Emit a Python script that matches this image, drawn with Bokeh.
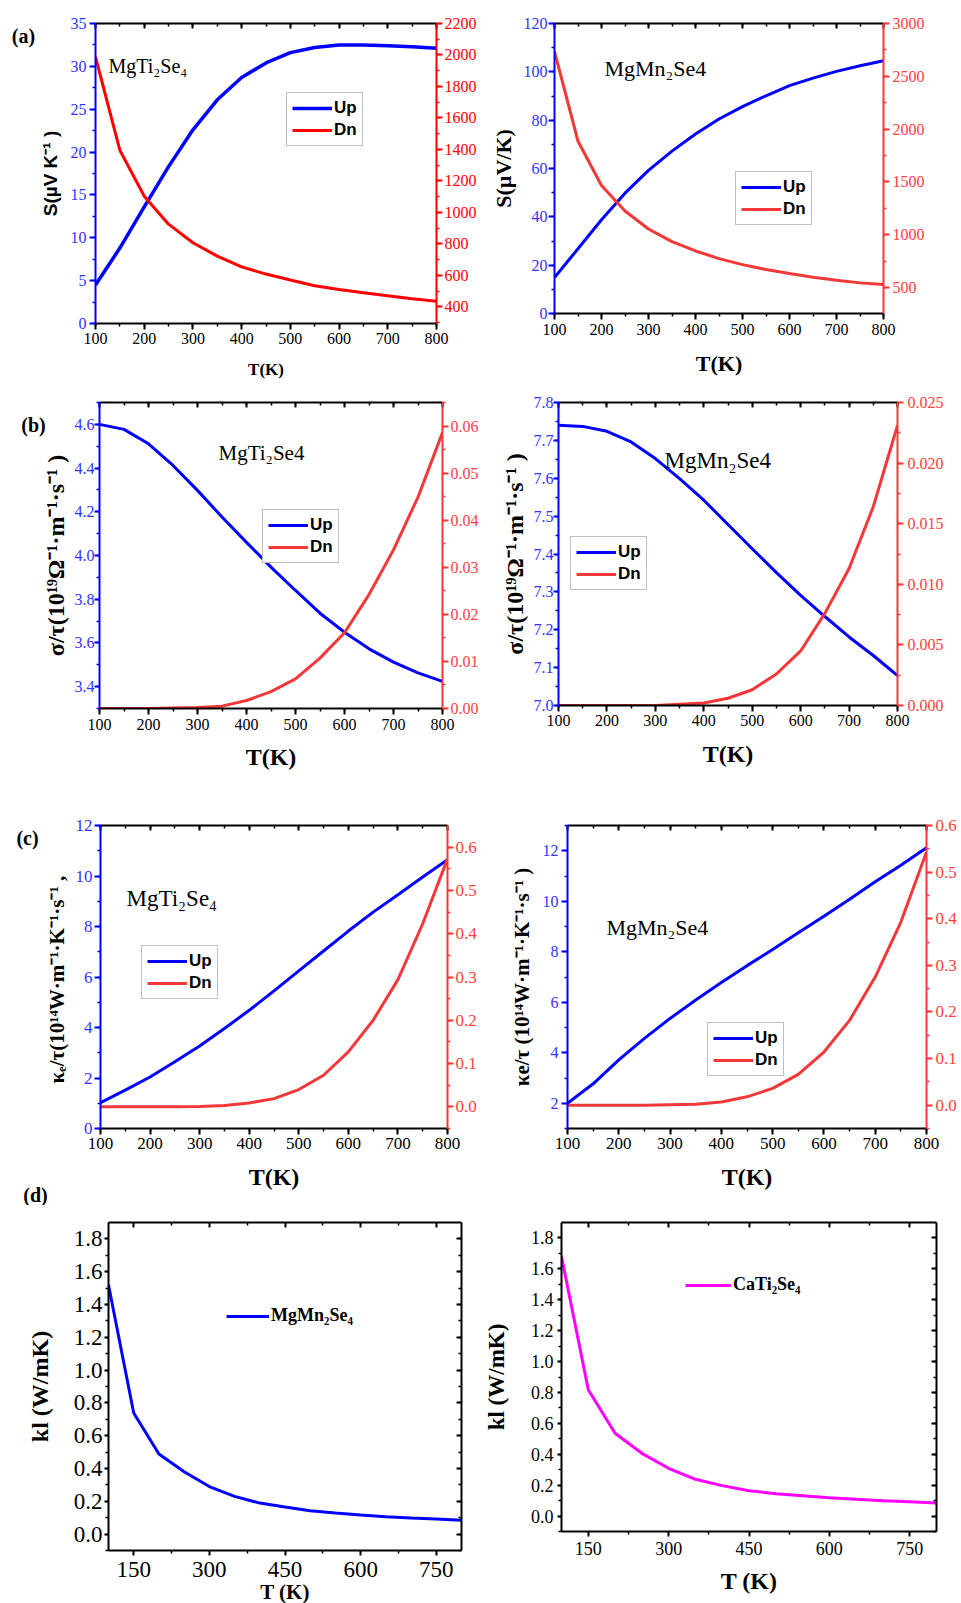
from bokeh.plotting import figure
from bokeh.models import (LinearAxis, Range1d, SingleIntervalTicker, FixedTicker, Grid,
                          Legend, LegendItem, Label, NumeralTickFormatter, CustomJSTickFormatter)
from bokeh.layouts import column, row
from bokeh.embed import file_html
from bokeh.resources import INLINE

# ---------------- data ----------------
temperature = [100, 150, 200, 250, 300, 350, 400, 450, 500, 550, 600, 650, 700, 750, 800]

seebeck_mgti_up = [4.5, 8.8, 13.6, 18.3, 22.6, 26.1, 28.7, 30.4, 31.6, 32.2, 32.5, 32.5, 32.4, 32.3, 32.1]
seebeck_mgti_dn = [1988, 1395, 1103, 925, 807, 722, 654, 608, 570, 534, 510, 489, 470, 451, 436]

seebeck_mgmn_up = [14.9, 26.8, 38.8, 49.8, 59.2, 67.2, 74.3, 80.5, 85.6, 90.1, 94.3, 97.4, 100.2, 102.5, 104.6]
seebeck_mgmn_dn = [2735, 1885, 1466, 1224, 1054, 934, 846, 774, 717, 670, 632, 597, 569, 544, 529]

sigma_mgti_up = [4.600, 4.577, 4.511, 4.412, 4.298, 4.176, 4.060, 3.947, 3.840, 3.736, 3.649, 3.573, 3.512, 3.463, 3.424]
sigma_mgti_dn = [0.0, 0.0, 0.0, 0.0001, 0.0002, 0.0005, 0.0017, 0.0036, 0.0063, 0.0107, 0.0161, 0.0242, 0.0337, 0.0449, 0.0586]

sigma_mgmn_up = [7.740, 7.737, 7.724, 7.696, 7.652, 7.599, 7.542, 7.478, 7.414, 7.351, 7.291, 7.235, 7.181, 7.132, 7.079]
sigma_mgmn_dn = [0.0, 0.0, 0.0, 0.0, 0.0, 0.0001, 0.0002, 0.0006, 0.0013, 0.0026, 0.0045, 0.0076, 0.0113, 0.0164, 0.0231]

kappa_mgti_up = [1.02, 1.52, 2.04, 2.64, 3.27, 3.96, 4.68, 5.45, 6.24, 7.03, 7.82, 8.57, 9.26, 9.96, 10.64]
kappa_mgti_dn = [0.0, 0.0, 0.0, 0.0, 0.001, 0.003, 0.009, 0.019, 0.040, 0.073, 0.127, 0.200, 0.294, 0.423, 0.573]

kappa_mgmn_up = [2.0, 2.77, 3.72, 4.57, 5.36, 6.09, 6.78, 7.45, 8.09, 8.75, 9.41, 10.08, 10.77, 11.43, 12.12]
kappa_mgmn_dn = [0.0, 0.0, 0.0, 0.0, 0.001, 0.002, 0.007, 0.018, 0.036, 0.066, 0.114, 0.182, 0.275, 0.393, 0.543]

kl_mgmn = [1.519, 0.738, 0.488, 0.380, 0.290, 0.230, 0.189, 0.165, 0.142, 0.128, 0.116, 0.106, 0.098, 0.092, 0.085]
kl_cati = [1.680, 0.817, 0.536, 0.406, 0.309, 0.238, 0.197, 0.164, 0.145, 0.132, 0.119, 0.108, 0.099, 0.093, 0.084]

series_labels = ["Up", "Dn"]
kl_ticks = [150, 300, 450, 600, 750]
kl_minor = [225, 375, 525, 675]

SERIF = "Liberation Serif"
SANS = "Liberation Sans"
BLUE = "#0000FF"
BLUE_LAB = "#3333FF"
RED = "#FF0000"
RED2 = "#F23838"
RED_LAB = "#FF4040"
MAGENTA = "#FF00FF"


def base_fig(bl, fw, br, bt, fh, bb, y_range, x_range=(100, 800)):
    p = figure(frame_width=fw, frame_height=fh, min_border_left=bl, min_border_right=br,
               min_border_top=bt, min_border_bottom=bb,
               x_range=Range1d(*x_range), y_range=Range1d(*y_range),
               x_axis_location=None, y_axis_location=None,
               output_backend="svg", toolbar_location=None)
    p.outline_line_color = None
    p.background_fill_color = "white"
    p.border_fill_color = "white"
    return p


def axis(p, side, ticker, color="black", lab_color=None, size=16, standoff=3,
         tick_out=6, tick_in=0, minor_out=3, minor_in=0, fmt=None, blank=False,
         title=None, title_font=SERIF, title_size=22, title_standoff=5, y_range_name=None):
    kw = {}
    if y_range_name:
        kw["y_range_name"] = y_range_name
    ax = LinearAxis(ticker=ticker, **kw)
    if fmt is not None:
        ax.formatter = NumeralTickFormatter(format=fmt)
    ax.axis_line_color = color
    ax.axis_line_width = 2
    ax.major_tick_line_color = color
    ax.major_tick_line_width = 2
    ax.minor_tick_line_color = color
    ax.minor_tick_line_width = 1.5
    ax.major_tick_out = tick_out
    ax.major_tick_in = tick_in
    ax.minor_tick_out = minor_out
    ax.minor_tick_in = minor_in
    if blank:
        ax.formatter = CustomJSTickFormatter(code="return ''")
        ax.major_label_text_font_size = "1px"
        ax.major_label_standoff = 0
    else:
        ax.major_label_text_color = lab_color or color
        ax.major_label_text_font = SERIF
        ax.major_label_text_font_size = f"{size}px"
        ax.major_label_standoff = standoff
    if title:
        ax.axis_label = title
        ax.axis_label_text_font = title_font
        ax.axis_label_text_font_style = "bold"
        ax.axis_label_text_font_size = f"{title_size}px"
        ax.axis_label_text_color = "black"
        ax.axis_label_standoff = title_standoff
    p.add_layout(ax, side)
    return ax


def add_legend(p, items, loc, boxed=True, font=SANS, size=17, glyph_w=40):
    leg = Legend(items=[LegendItem(label=t, renderers=[r]) for t, r in items], location=loc)
    leg.margin = 0
    leg.padding = 5
    leg.spacing = 2
    leg.glyph_width = glyph_w
    leg.glyph_height = 20
    leg.label_height = 20
    leg.label_standoff = 2
    leg.label_text_font = font
    leg.label_text_font_style = "bold"
    leg.label_text_font_size = f"{size}px"
    leg.label_text_color = "black"
    if boxed:
        leg.border_line_color = "#7f7f7f"
        leg.border_line_width = 1.5
        leg.background_fill_color = "white"
        leg.background_fill_alpha = 1
    else:
        leg.border_line_color = None
        leg.background_fill_alpha = 0
    p.add_layout(leg)


def add_text(p, x, y, text, size, bold=False, align="left", font=SERIF):
    p.add_layout(Label(x=x, y=y, x_units="screen", y_units="screen", text=text,
                       text_font=font, text_font_size=f"{size}px",
                       text_font_style="bold" if bold else "normal",
                       text_align=align, text_baseline="middle", text_color="black"))


def add_tag(p, x, y, text, side="left"):
    # panel tag placed in a side panel (data units) so that it is not clipped to the frame
    p.add_layout(Label(x=x, y=y, x_units="data", y_units="data", text=text,
                       text_font=SERIF, text_font_size="20px", text_font_style="bold",
                       text_align="center", text_baseline="middle", text_color="black"), side)


def no_grid(p):
    for g in p.select(type=Grid):
        g.visible = False


def xt():
    return SingleIntervalTicker(interval=100, num_minor_ticks=2)


def dual_axes(p, *, xs, xst, xtitle_size, xtitle_st, lint, lfmt, ls, lst, ltick_out, ytitle,
              ytitle_font, ytitle_size, ytitle_st, rint, rfmt, rs, rst, lcol=BLUE, rcol=RED, rlab=RED_LAB):
    axis(p, "below", xt(), size=xs, standoff=xst, title="T(K)", title_size=xtitle_size,
         title_standoff=xtitle_st)
    axis(p, "above", xt(), blank=True, tick_out=0, tick_in=5, minor_out=0, minor_in=3)
    axis(p, "left", SingleIntervalTicker(interval=lint, num_minor_ticks=2), color=lcol,
         lab_color=BLUE_LAB, size=ls, standoff=lst, tick_out=ltick_out, fmt=lfmt,
         title=ytitle, title_font=ytitle_font, title_size=ytitle_size, title_standoff=ytitle_st)
    axis(p, "right", SingleIntervalTicker(interval=rint, num_minor_ticks=2), color=rcol,
         lab_color=rlab, size=rs, standoff=rst, fmt=rfmt, y_range_name="r")


# ---------------- (a) left ----------------
a1 = base_fig(95, 341, 44, 20, 300, 60, (0, 35))
a1.extra_y_ranges = {"r": Range1d(294, 2200)}
r_up = a1.line(temperature, seebeck_mgti_up, line_color=BLUE, line_width=3.5)
r_dn = a1.line(temperature, seebeck_mgti_dn, line_color=RED, line_width=3, y_range_name="r")
dual_axes(a1, xs=16, xst=3, xtitle_size=17, xtitle_st=13, lint=5, lfmt=None, ls=16, lst=3, ltick_out=6,
          ytitle="S(µV K⁻¹ )", ytitle_font=SANS, ytitle_size=19, ytitle_st=7,
          rint=200, rfmt=None, rs=16, rst=2, rcol=RED, rlab=RED)
add_tag(a1, -47.8, 33.6, "(a)")
add_text(a1, 13, 258, "MgTi₂Se₄", 20)
add_legend(a1, list(zip(series_labels, [r_up, r_dn])), (191, 177))

# ---------------- (a) right ----------------
a2 = base_fig(74, 329, 78, 23, 290, 67, (0, 120))
a2.extra_y_ranges = {"r": Range1d(254, 3000)}
r_up = a2.line(temperature, seebeck_mgmn_up, line_color=BLUE, line_width=3)
r_dn = a2.line(temperature, seebeck_mgmn_dn, line_color=RED2, line_width=3, y_range_name="r")
dual_axes(a2, xs=16, xst=4, xtitle_size=22, xtitle_st=13, lint=20, lfmt=None, ls=16, lst=1, ltick_out=6,
          ytitle="S(µV/K)", ytitle_font=SERIF, ytitle_size=22, ytitle_st=5,
          rint=500, rfmt=None, rs=16, rst=3, rcol=RED2)
add_text(a2, 50, 245, "MgMn₂Se4", 22)
add_legend(a2, list(zip(series_labels, [r_up, r_dn])), (181, 88))

# ---------------- (b) left ----------------
b1 = base_fig(99, 343, 38, 18, 306, 76, (3.3, 4.7))
b1.extra_y_ranges = {"r": Range1d(0, 0.065)}
r_up = b1.line(temperature, sigma_mgti_up, line_color=BLUE, line_width=3)
r_dn = b1.line(temperature, sigma_mgti_dn, line_color=RED2, line_width=3, y_range_name="r")
dual_axes(b1, xs=16, xst=4, xtitle_size=24, xtitle_st=11, lint=0.2, lfmt="0.0", ls=16, lst=0, ltick_out=5,
          ytitle="σ/τ(10¹⁹Ω⁻¹·m⁻¹·s⁻¹ )", ytitle_font=SERIF, ytitle_size=24, ytitle_st=3,
          rint=0.01, rfmt="0.00", rs=16, rst=2, rcol=RED2)
add_tag(b1, -34.7, 4.599, "(b)")
add_text(b1, 119, 256, "MgTi₂Se4", 21)
add_legend(b1, list(zip(series_labels, [r_up, r_dn])), (163, 145))

# ---------------- (b) right ----------------
b2 = base_fig(77, 339, 65, 22, 303, 75, (7.0, 7.8001))
b2.extra_y_ranges = {"r": Range1d(0, 0.025)}
r_up = b2.line(temperature, sigma_mgmn_up, line_color=BLUE, line_width=3)
r_dn = b2.line(temperature, sigma_mgmn_dn, line_color=RED2, line_width=3, y_range_name="r")
dual_axes(b2, xs=16, xst=3, xtitle_size=24, xtitle_st=12, lint=0.1, lfmt="0.0", ls=16, lst=0, ltick_out=5,
          ytitle="σ/τ(10¹⁹Ω⁻¹·m⁻¹·s⁻¹ )", ytitle_font=SERIF, ytitle_size=24, ytitle_st=3,
          rint=0.005, rfmt="0.000", rs=16, rst=4, rcol=RED2)
add_text(b2, 106, 245, "MgMn₂Se4", 23)
add_legend(b2, list(zip(series_labels, [r_up, r_dn])), (12, 115))

# ---------------- (c) left ----------------
c1 = base_fig(100, 347, 33, 45, 303, 77, (0, 12))
c1.extra_y_ranges = {"r": Range1d(-0.05, 0.65)}
r_up = c1.line(temperature, kappa_mgti_up, line_color=BLUE, line_width=3)
r_dn = c1.line(temperature, kappa_mgti_dn, line_color=RED2, line_width=3, y_range_name="r")
dual_axes(c1, xs=17, xst=3, xtitle_size=24, xtitle_st=12, lint=2, lfmt=None, ls=17, lst=2, ltick_out=6,
          ytitle="κₑ/τ(10¹⁴W·m⁻¹·K⁻¹·s⁻¹  ,", ytitle_font=SERIF, ytitle_size=21, ytitle_st=4,
          rint=0.1, rfmt="0.0", rs=17, rst=2, rcol=RED2)
add_tag(c1, -47.3, 11.49, "(c)", side="above")
add_tag(c1, -31.1, -2.65, "(d)", side="left")
add_text(c1, 26, 230, "MgTi₂Se₄", 23)
add_legend(c1, list(zip(series_labels, [r_up, r_dn])), (41, 129))

# ---------------- (c) right ----------------
c2 = base_fig(87, 359, 35, 45, 303, 77, (1, 13))
c2.extra_y_ranges = {"r": Range1d(-0.05, 0.6001)}
r_up = c2.line(temperature, kappa_mgmn_up, line_color=BLUE, line_width=3)
r_dn = c2.line(temperature, kappa_mgmn_dn, line_color=RED2, line_width=3, y_range_name="r")
dual_axes(c2, xs=17, xst=3, xtitle_size=24, xtitle_st=12, lint=2, lfmt=None, ls=16, lst=3, ltick_out=6,
          ytitle="κe/τ (10¹⁴W·m⁻¹·K⁻¹·s⁻¹ )", ytitle_font=SERIF, ytitle_size=21, ytitle_st=6,
          rint=0.1, rfmt="0.0", rs=17, rst=3, rcol=RED2)
add_text(c2, 39, 201, "MgMn₂Se4", 22)
add_legend(c2, list(zip(series_labels, [r_up, r_dn])), (140, 52))

# ---------------- (d) left ----------------
d1 = base_fig(108, 353, 19, 5, 328, 65, (-0.1, 1.9))
r_d1 = d1.line(temperature, kl_mgmn, line_color=BLUE, line_width=3)
axis(d1, "below", FixedTicker(ticks=kl_ticks, minor_ticks=kl_minor), size=23, standoff=6, tick_out=5,
     title="T (K)", title_size=21, title_standoff=0)
axis(d1, "above", FixedTicker(ticks=kl_ticks, minor_ticks=kl_minor), blank=True, tick_out=0, tick_in=5,
     minor_out=0, minor_in=3)
axis(d1, "left", SingleIntervalTicker(interval=0.2, num_minor_ticks=2), size=23, standoff=2, tick_out=4,
     fmt="0.0", title="kl (W/mK)", title_size=24, title_standoff=18)
axis(d1, "right", SingleIntervalTicker(interval=0.2, num_minor_ticks=2), blank=True, tick_out=0, tick_in=5,
     minor_out=0, minor_in=3)
add_legend(d1, [("MgMn₂Se₄", r_d1)], (118, 224), boxed=False, font=SERIF, size=18, glyph_w=43)

# ---------------- (d) right ----------------
d2 = base_fig(80, 375, 26, 17, 309, 72, (-0.1, 1.9))
r_d2 = d2.line(temperature, kl_cati, line_color=MAGENTA, line_width=3)
axis(d2, "below", FixedTicker(ticks=kl_ticks, minor_ticks=kl_minor), size=18, standoff=5, tick_out=5,
     title="T (K)", title_size=24, title_standoff=10)
axis(d2, "above", FixedTicker(ticks=kl_ticks, minor_ticks=kl_minor), blank=True, tick_out=0, tick_in=5,
     minor_out=0, minor_in=3)
axis(d2, "left", SingleIntervalTicker(interval=0.2, num_minor_ticks=2), size=18, standoff=4, tick_out=4,
     fmt="0.0", title="kl (W/mK)", title_size=23, title_standoff=19)
axis(d2, "right", SingleIntervalTicker(interval=0.2, num_minor_ticks=2), blank=True, tick_out=0, tick_in=5,
     minor_out=0, minor_in=3)
add_legend(d2, [("CaTi₂Se₄", r_d2)], (124, 236), boxed=False, font=SERIF, size=18, glyph_w=46)

for fig in (a1, a2, b1, b2, c1, c2, d1, d2):
    no_grid(fig)

layout = column(row(a1, a2), row(b1, b2), row(c1, c2), row(d1, d2))

open("out.html", "w").write(file_html(layout, INLINE))
